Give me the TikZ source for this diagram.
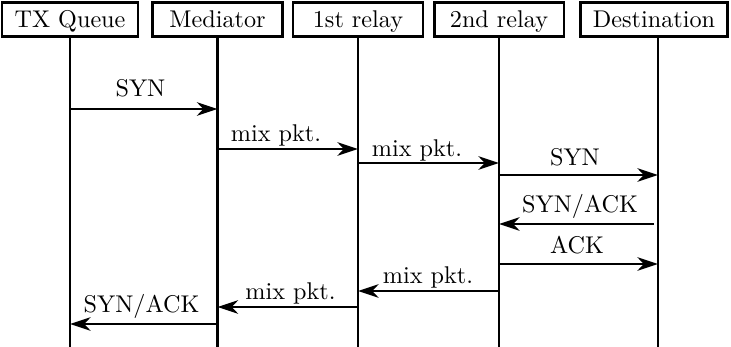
\documentclass[tikz,border=0pt]{standalone}
\usetikzlibrary{arrows.meta}
\begin{document}
\begin{tikzpicture}[x=0.014523cm, y=-0.014523cm,
  actor/.style={draw, line width=1.2pt, minimum width=53.7pt, minimum height=14pt,
    inner xsep=5.2pt, inner ysep=0pt, text height=8pt, text depth=1pt},
  life/.style={line width=1.15pt},
  msg/.style={line width=1.15pt, -{Stealth[length=8.5pt,width=5.6pt,inset=2.6pt]}},
  lbl/.style={anchor=base, inner sep=0pt}]
\useasboundingbox (0,0) rectangle (731,347);

% participants
\node[actor] (tx)  at (70,19.5)    {TX Queue};
\node[actor] (med) at (217.5,19.5) {Mediator};
\node[actor] (r1)  at (358,19.5)   {1st relay};
\node[actor] (r2)  at (499,19.5)   {2nd relay};
\node[actor] (dst) at (654,19.5)   {Destination};

% lifelines
\coordinate (txT)  at (tx.south);
\coordinate (medT) at (med.south);
\coordinate (r1T)  at (r1.south);
\coordinate (r2T)  at (r2.south);
\coordinate (dstT) at ([xshift=1.65pt]dst.south);
\foreach \p in {txT,medT,r1T,r2T,dstT}
  \draw[life] (\p) -- (\p |- 0,347);

% messages
\draw[msg] (txT |- 0,109) -- (medT |- 0,109);
\node[lbl] (l1) at (140.5,97) {SYN};

\draw[msg] (medT |- 0,149) -- (r1T |- 0,149);
\node[lbl] (l2) at (276,142) {mix pkt.};

\draw[msg] (r1T |- 0,163) -- (r2T |- 0,163);
\node[lbl] (l3) at (417,156.7) {mix pkt.};

\draw[msg] (r2T |- 0,175) -- (dstT |- 0,175);
\node[lbl] (l4) at (575,166) {SYN};

\draw[msg] ([xshift=-1.6pt]dstT |- 0,224) -- (r2T |- 0,224);
\node[lbl] (l5) at (580,212.7) {SYN/ACK};

\draw[msg] (r2T |- 0,264) -- (dstT |- 0,264);
\node[lbl] (l6) at (577,254) {ACK};

\draw[msg] (r2T |- 0,291) -- (r1T |- 0,291);
\node[lbl] (l7) at (428,284) {mix pkt.};

\draw[msg] (r1T |- 0,307) -- (medT |- 0,307);
\node[lbl] (l8) at (290.5,300) {mix pkt.};

\draw[msg] (medT |- 0,324) -- (txT |- 0,324);
\node[lbl] (l9) at (141.5,312.5) {SYN/ACK};
\end{tikzpicture}
\end{document}
